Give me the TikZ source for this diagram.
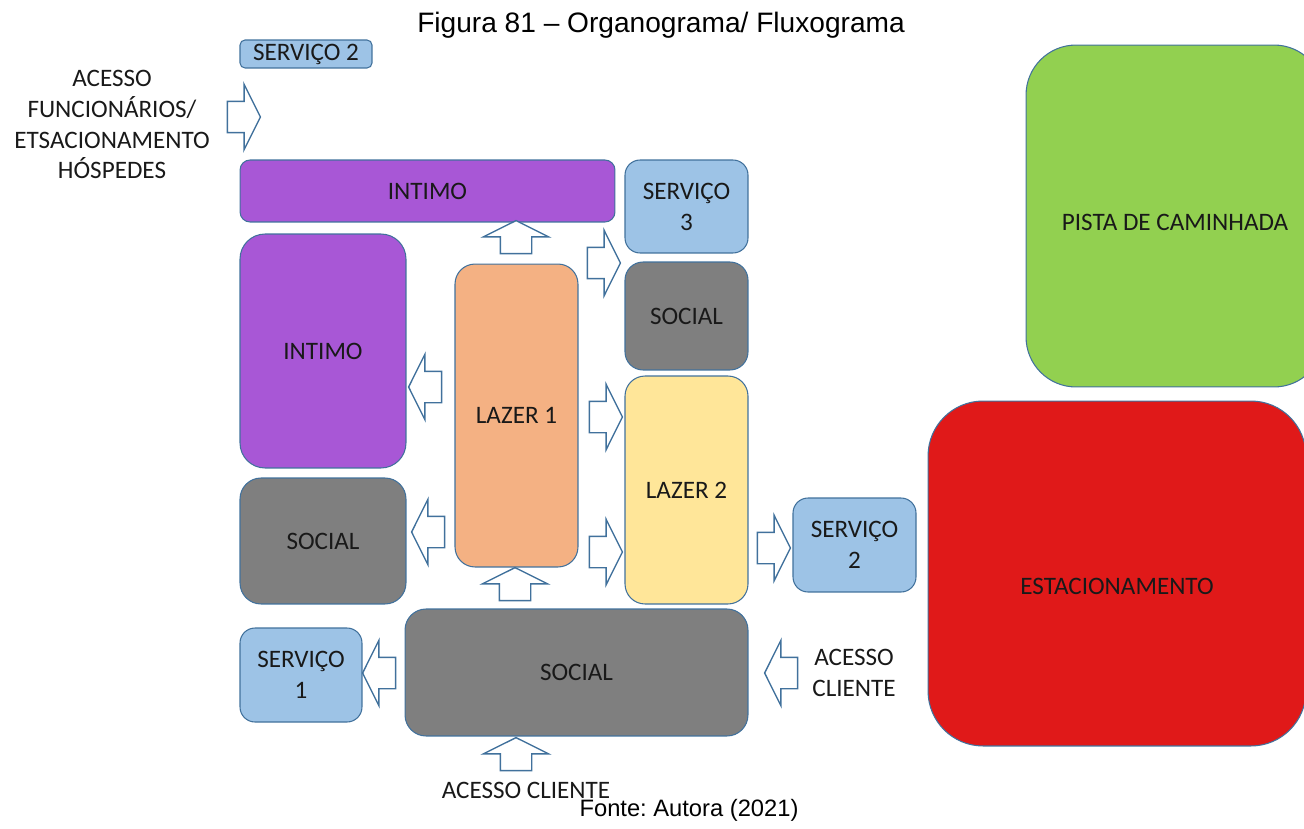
\documentclass[tikz,border=0pt]{standalone}
\usepackage{fontspec}
\setmainfont{Carlito}
\newfontfamily\captionfont{Liberation Sans}
\usetikzlibrary{shapes.arrows}

\definecolor{edgeblue}{RGB}{65,113,156}
\definecolor{servblue}{RGB}{157,195,230}
\definecolor{intpurple}{RGB}{168,87,214}
\definecolor{socgrey}{RGB}{127,127,127}
\definecolor{lazorange}{RGB}{244,177,131}
\definecolor{lazyellow}{RGB}{255,230,153}
\definecolor{pistagreen}{RGB}{146,208,80}
\definecolor{estred}{RGB}{224,25,25}

\frenchspacing
\begin{document}
\begin{tikzpicture} [
    x=0.02cm, y=-0.02cm,
    font=\fontsize{14.3}{17.6}\selectfont,
    area/.style    = { rectangle, draw=edgeblue, line width=0.6pt,
                       text=black!90, align=center, inner sep=0pt },
    servico/.style = { area, fill=servblue },
    intimo/.style  = { area, fill=intpurple },
    social/.style  = { area, fill=socgrey },
    barrow/.style  = { single arrow, draw=edgeblue, fill=white,
                       line width=0.8pt, inner xsep=0pt, inner ysep=0.3cm,
                       minimum height=0.66cm,
                       single arrow head extend=0.34cm,
                       single arrow tip angle=127 },
    note/.style    = { align=center, text=black!90 },
  ]

\useasboundingbox (0,0) rectangle (1304,828);
\clip (0,0) rectangle (1304,828);

% caption lines
\node [font=\captionfont\fontsize{16}{19}\selectfont] (title) at (661,25) {Figura 81 – Organograma/ Fluxograma};
\node [font=\captionfont\fontsize{13.5}{16}\selectfont] (fonte) at (689,810) {Fonte: Autora (2021)};

% areas
\node [servico, minimum width=2.64cm, minimum height=0.56cm, rounded corners=0.1cm] (srvtop) at (306,54) {SERVIÇO 2};
\node [intimo, minimum width=7.5cm, minimum height=1.24cm, rounded corners=0.2cm] (inttop) at (427.5,191) {INTIMO};
\node [servico, minimum width=2.46cm, minimum height=1.86cm, rounded corners=0.3cm] (srv3) at (686.5,206.5) {SERVIÇO\\3};
\node [social, minimum width=2.46cm, minimum height=2.16cm, rounded corners=0.36cm] (socright) at (686.5,316) {SOCIAL};
\node [intimo, minimum width=3.32cm, minimum height=4.68cm, rounded corners=0.5cm] (intleft) at (323,351) {INTIMO};
\node [area, fill=lazorange, minimum width=2.46cm, minimum height=6.06cm, rounded corners=0.4cm] (lazer1) at (516.5,415.5) {LAZER 1};
\node [area, fill=lazyellow, minimum width=2.46cm, minimum height=4.56cm, rounded corners=0.4cm] (lazer2) at (686.5,490) {LAZER 2};
\node [social, minimum width=3.32cm, minimum height=2.52cm, rounded corners=0.42cm] (socleft) at (323,541) {SOCIAL};
\node [social, minimum width=6.86cm, minimum height=2.54cm, rounded corners=0.42cm] (socmain) at (576.5,672.5) {SOCIAL};
\node [servico, minimum width=2.44cm, minimum height=1.88cm, rounded corners=0.3cm] (srv1) at (301,675) {SERVIÇO\\1};
\node [servico, minimum width=2.46cm, minimum height=1.88cm, rounded corners=0.3cm] (srv2) at (854.5,545) {SERVIÇO\\2};
\node [area, fill=pistagreen, minimum width=5.96cm, minimum height=6.84cm, rounded corners=1cm,
       label={[note, yshift=-6*0.02cm]center:PISTA DE CAMINHADA}] (pista) at (1175,216) {};
\node [area, fill=estred, minimum width=7.56cm, minimum height=6.9cm, rounded corners=1.1cm,
       label={[note, yshift=-13*0.02cm]center:ESTACIONAMENTO}] (estac) at (1117,573.5) {};

% access texts
\node [note] (accfunc) at (112,124.5) {ACESSO\\FUNCIONÁRIOS/\\ETSACIONAMENTO\\HÓSPEDES};
\node [note] (accbot)  at (526,790) {ACESSO CLIENTE};
\node [note] (accright) at (854,673) {ACESSO\\CLIENTE};

% block arrows
\node [barrow]             (a1)  at (240,117) {};
\node [barrow, rotate=90]  (a2)  at (516,241) {};
\node [barrow]             (a3)  at (600,263) {};
\node [barrow, rotate=180] (a4)  at (429,387) {};
\node [barrow]             (a5)  at (602,417) {};
\node [barrow, rotate=180] (a6)  at (432,532) {};
\node [barrow]             (a7)  at (602,552) {};
\node [barrow, rotate=90]  (a8)  at (515,588) {};
\node [barrow, rotate=180] (a9)  at (383,673) {};
\node [barrow, rotate=90]  (a10) at (516,758) {};
\node [barrow]             (a11) at (770,548) {};
\node [barrow, rotate=180] (a12) at (785,673) {};

\end{tikzpicture}
\end{document}
